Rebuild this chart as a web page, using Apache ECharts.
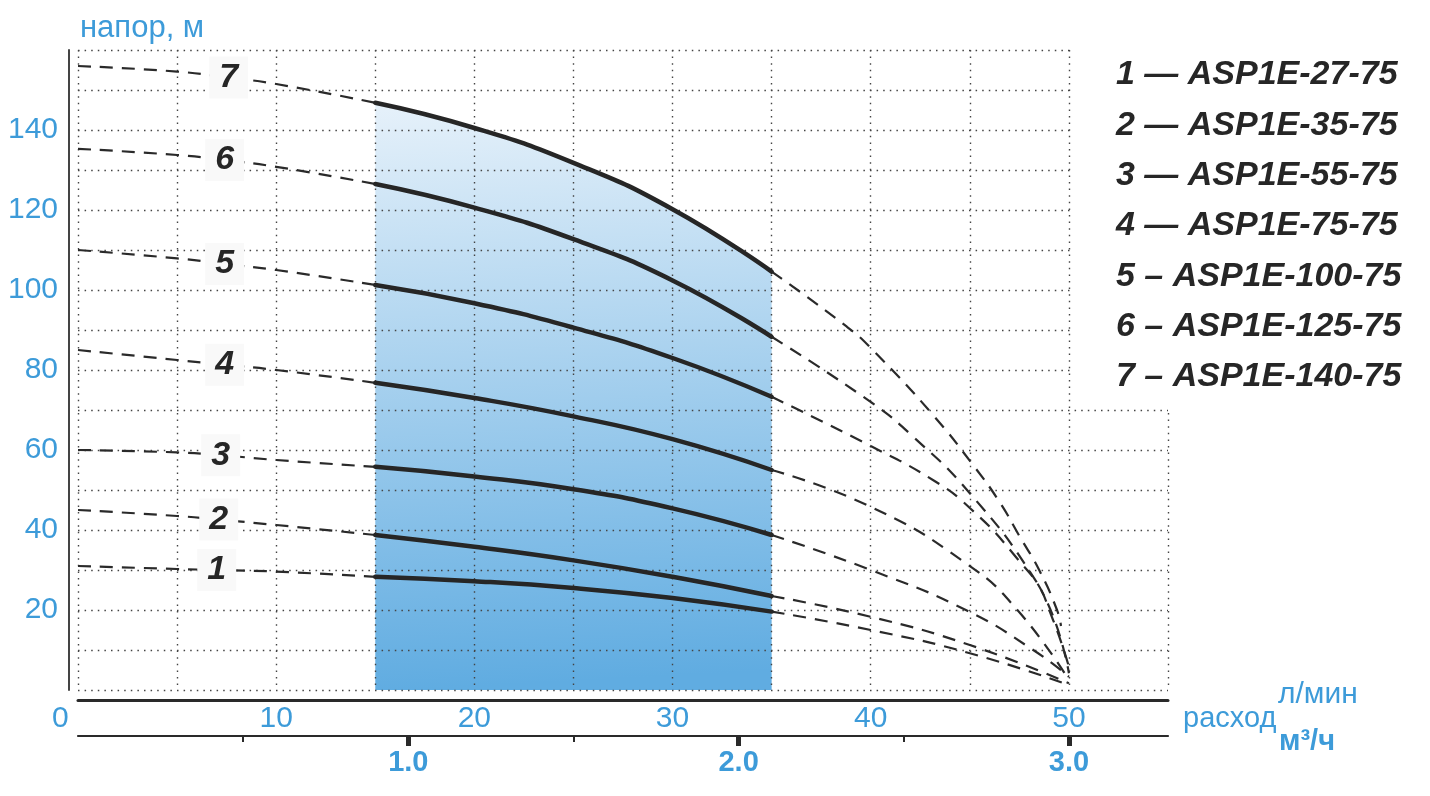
<!DOCTYPE html>
<html><head><meta charset="utf-8">
<script src="https://cdn.jsdelivr.net/npm/echarts@6/dist/echarts.min.js"></script>
<style>html,body{margin:0;padding:0;background:#fff}#c{width:1430px;height:796px}</style>
</head><body><div id="c"></div>
<script>
// flow in l/min, head in m
const curve1 = [[0,31],[5,30.25],[7,30],[10,29.6],[15,28.3],[20,27.2],[25,25.5],[30,23],[35,19.6],[40,15],[45,9.2],[50,1.25]];
const curve2 = [[0,45],[5,43.5],[7.1,42.6],[10,41.25],[15,38.75],[20,35.8],[25,32.4],[30,28.3],[35,23.5],[40,18.3],[45,11.25],[50,1.7]];
const curve3 = [[0,60],[5,59.4],[7.2,58.7],[10,57.5],[15,55.8],[20,53.4],[25,50.2],[30,45.4],[35,38.75],[40,30],[44.8,20],[48.2,10],[50,3.3]];
const curve4 = [[0,85],[5,82.5],[7.4,81.3],[10,80],[15,76.8],[20,73],[25,68.4],[30,62.7],[35,55],[40,45.8],[44.8,31.7],[47.4,20],[50,2.5]];
const curve5 = [[0,110],[5,107.9],[7.4,106.5],[10,105],[15,101.25],[20,96.7],[25,90.6],[30,83],[35,73.3],[40,61],[43.2,52.3],[45,45.5],[47.2,34],[48.9,22],[50,4.2]];
const curve6 = [[0,135.3],[5,133.75],[7.4,132.5],[10,130.8],[15,126.5],[20,120.6],[25,112.7],[30,102.4],[35,88.3],[40,72],[42.1,63.5],[45,49.2],[48.2,28.3],[49.2,17.5],[50,5.8]];
const curve7 = [[0,156],[5,154.6],[7.6,153.1],[10,151.5],[15,146.8],[20,140.5],[25,131.8],[30,120.2],[35,104.6],[38.8,90.8],[40.1,85],[43.1,69],[45.2,56],[46.5,47],[47.5,38.5],[48.5,30],[49.4,20],[49.6,16]];
const curves = [curve1, curve2, curve3, curve4, curve5, curve6, curve7];
const curveNumbers = ['1','2','3','4','5','6','7'];
const labelAt = [7, 7.1, 7.2, 7.4, 7.4, 7.4, 7.6];
const legendLabels = ['1 — ASP1E-27-75','2 — ASP1E-35-75','3 — ASP1E-55-75','4 — ASP1E-75-75','5 – ASP1E-100-75','6 – ASP1E-125-75','7 – ASP1E-140-75'];
const workFrom = 15, workTo = 35;           // working range (l/min)
const xLminLabels = [0,10,20,30,40,50];
const xM3hLabels = [1,2,3];
const xM3hMinor = [0.5,1.5,2.5];
const yLabels = [20,40,60,80,100,120,140];
const yName = 'напор, м';
const xName = 'расход';
const unitLmin = 'л/мин';
const unitM3h = 'м³/ч';

const BLUE = '#3d9bd9';
const INK = '#262626';
const FONT = '"Liberation Sans", Arial, sans-serif';
const SMOOTH = 0.5;

const series = [];
// shaded working area under the top curve
series.push({
  type: 'line', xAxisIndex: 0, z: -1, silent: true, showSymbol: false,
  smooth: SMOOTH,
  data: curve7.filter(p => p[0] >= workFrom && p[0] <= workTo),
  lineStyle: { width: 0, opacity: 0 },
  areaStyle: { opacity: 1, color: { type: 'linear', x: 0, y: 0, x2: 0.08, y2: 1,
    colorStops: [{ offset: 0, color: '#e6f1fa' }, { offset: 1, color: '#60ace1' }] } }
});
curves.forEach((c, i) => {
  const left = c.filter(p => p[0] <= workFrom);
  const mid = c.filter(p => p[0] >= workFrom && p[0] <= workTo);
  const right = c.filter(p => p[0] >= workTo);
  const dashed = { width: 2.2, color: '#2a2a2a', type: [13, 9] };
  [left, right].forEach(d => series.push({
    type: 'line', xAxisIndex: 0, z: 3, silent: true, showSymbol: false,
    smooth: SMOOTH, data: d, lineStyle: dashed
  }));
  series.push({
    type: 'line', xAxisIndex: 0, z: 4, silent: true, showSymbol: false,
    smooth: SMOOTH, data: mid,
    lineStyle: { width: 4.5, color: INK, cap: 'round' }
  });
  const lp = c.find(p => p[0] === labelAt[i]);
  series.push({
    type: 'scatter', xAxisIndex: 0, z: 6, silent: true, symbolSize: 1,
    itemStyle: { color: 'rgba(0,0,0,0)', opacity: 1 },
    data: [lp],
    label: { show: true, position: 'inside', formatter: curveNumbers[i],
      fontFamily: FONT, fontSize: 34, fontWeight: 'bold', fontStyle: 'italic', color: INK,
      backgroundColor: '#f9f9f9', padding: [5, 10, 3, 10] }
  });
});

const dotted = { type: [1.5, 5.1], color: '#444', width: 1.4 };

const graphics = [
  { type: 'rect', z: 20, silent: true, shape: { x: 1071, y: 0, width: 359, height: 408.4 }, style: { fill: '#fff' } },
  { type: 'text', z: 21, x: 80, y: 28, style: { text: yName, font: '31px ' + FONT, fill: BLUE, verticalAlign: 'middle' } },
  { type: 'text', z: 21, x: 1183, y: 719, style: { text: xName, font: '29px ' + FONT, fill: BLUE, verticalAlign: 'middle' } },
  { type: 'text', z: 21, x: 1278, y: 695, style: { text: unitLmin, font: '30px ' + FONT, fill: BLUE, verticalAlign: 'middle' } },
  { type: 'text', z: 21, x: 1279, y: 742, style: { text: unitM3h, font: 'bold 29px ' + FONT, fill: BLUE, verticalAlign: 'middle' } }
];
legendLabels.forEach((t, i) => graphics.push({
  type: 'text', z: 21, x: 1116, y: 75 + i * 50.3,
  style: { text: t, font: 'italic bold 34px ' + FONT, fill: INK, verticalAlign: 'middle' }
}));

const chart = echarts.init(document.getElementById('c'), null, { renderer: 'canvas' });
chart.setOption({
  animation: false,
  backgroundColor: '#fff',
  grid: { left: 78, right: 262, top: 50, bottom: 106, containLabel: false, outerBoundsMode: 'none' },
  xAxis: [
    { type: 'value', min: 0, max: 55, interval: 5, position: 'bottom', offset: 10,
      axisLine: { show: true, onZero: false, lineStyle: { color: '#2a2a2a', width: 3 } },
      axisTick: { show: false },
      axisLabel: { margin: 4, fontSize: 30, fontFamily: FONT, color: BLUE,
        formatter: v => v === 0 ? '{z|0}' : (xLminLabels.indexOf(v) >= 0 ? String(v) : ''),
        rich: { z: { width: 26, align: 'left', fontSize: 30, fontFamily: FONT, color: BLUE } },
        alignMinLabel: 'right' },
      splitLine: { show: true, lineStyle: dotted } },
    { type: 'value', min: 0, max: 3.3, position: 'bottom', offset: 46,
      axisLine: { show: true, onZero: false, lineStyle: { color: '#2a2a2a', width: 2.2 } },
      axisTick: { show: true, length: 6, lineStyle: { width: 2, color: '#2a2a2a' }, customValues: xM3hMinor },
      axisLabel: { show: false }, splitLine: { show: false } },
    { type: 'value', min: 0, max: 3.3, position: 'bottom', offset: 46,
      axisLine: { show: false, onZero: false },
      axisTick: { show: true, length: 10, lineStyle: { width: 5, color: '#2a2a2a' }, customValues: xM3hLabels },
      axisLabel: { show: true, customValues: xM3hLabels, margin: 12, fontSize: 29, fontWeight: 'bold',
        fontFamily: FONT, color: BLUE, formatter: v => v.toFixed(1) },
      splitLine: { show: false } }
  ],
  yAxis: {
    type: 'value', min: 0, max: 160, interval: 10, offset: 9,
    axisLine: { show: true, onZero: false, lineStyle: { color: '#444', width: 2 } },
    axisTick: { show: false },
    axisLabel: { margin: 11, fontSize: 30, fontFamily: FONT, color: BLUE,
      formatter: v => yLabels.indexOf(v) >= 0 ? String(v) : '' },
    splitLine: { show: true, lineStyle: dotted }
  },
  series: series,
  graphic: graphics
});
</script></body></html>
